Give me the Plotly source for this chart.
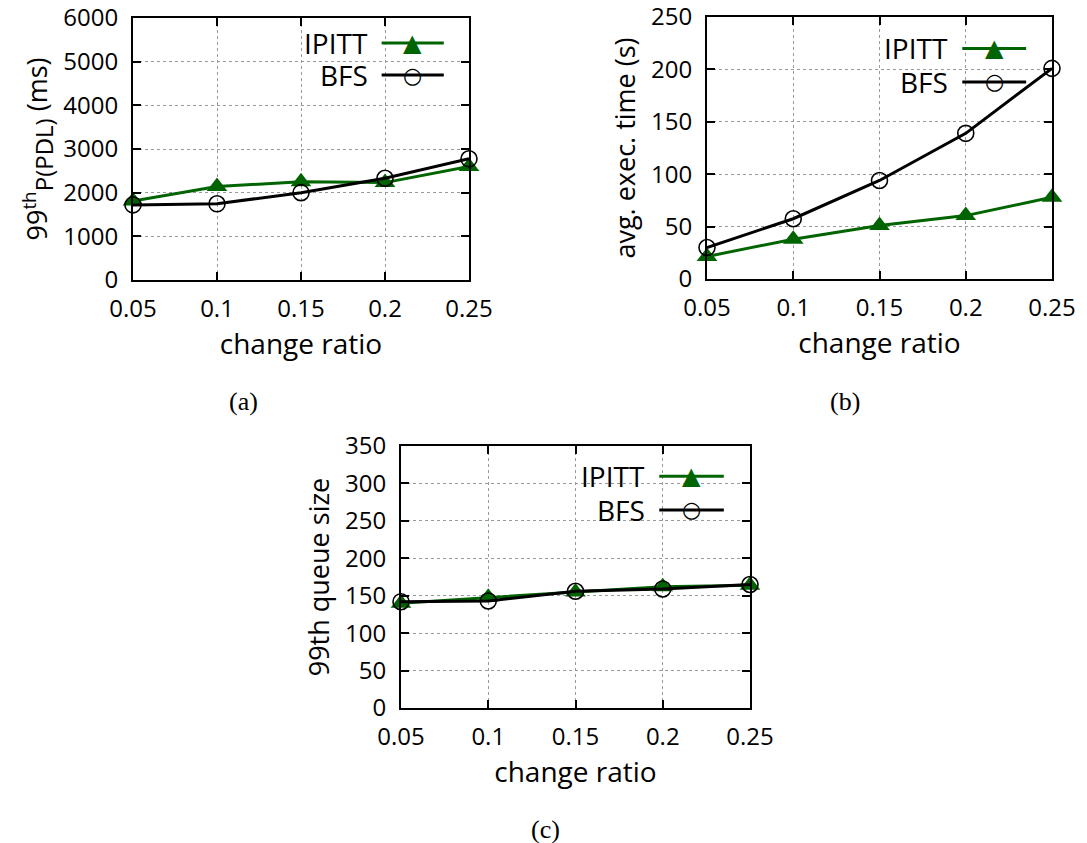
import plotly.graph_objects as go

# ---- data ----
change_ratio = [0.05, 0.1, 0.15, 0.2, 0.25]
x_tick_labels = ["0.05", "0.1", "0.15", "0.2", "0.25"]

pdl_ipitt = [1810, 2140, 2250, 2230, 2600]
pdl_bfs = [1720, 1745, 2000, 2330, 2775]
pdl_ticks = [0, 1000, 2000, 3000, 4000, 5000, 6000]

exec_ipitt = [21.5, 38, 51, 60.5, 78]
exec_bfs = [30, 57.5, 94, 139, 201]
exec_ticks = [0, 50, 100, 150, 200, 250]

queue_ipitt = [140, 148, 155, 162, 164]
queue_bfs = [142, 143, 156, 159, 165]
queue_ticks = [0, 50, 100, 150, 200, 250, 300, 350]

W, H = 1087, 843
FONT = "Open Sans"
GREEN = "#006400"


def px_x(p):
    return p / W


def px_y(p):
    return 1 - p / H


panels = [
    dict(ax="", xpx=(133, 469), ypx=(18, 280), ipitt=pdl_ipitt, bfs=pdl_bfs, yticks=pdl_ticks,
         ytitle="99<sup>th</sup><sub><span style='font-size:24px'>P(PDL)</span></sub> (ms)",
         cap="(a)", cap_xy=(243, 401), rows=(0.905, 0.782)),
    dict(ax="2", xpx=(707, 1052), ypx=(17, 279), ipitt=exec_ipitt, bfs=exec_bfs, yticks=exec_ticks,
         ytitle="avg. exec. time (s)", cap="(b)", cap_xy=(845, 401), rows=(0.88, 0.752)),
    dict(ax="3", xpx=(401, 750), ypx=(446, 708), ipitt=queue_ipitt, bfs=queue_bfs, yticks=queue_ticks,
         ytitle="99th queue size", cap="(c)", cap_xy=(545, 829), rows=(0.885, 0.756)),
]

fig = go.Figure()
annotations = []
shapes = []

for p in panels:
    xa = "x" + p["ax"]
    ya = "y" + p["ax"]
    fig.add_trace(go.Scatter(
        x=change_ratio, y=p["ipitt"], xaxis=xa, yaxis=ya, mode="lines+markers",
        line=dict(color=GREEN, width=3), marker=dict(symbol="triangle-up", size=18, color=GREEN),
        cliponaxis=False, showlegend=False, name="IPITT"))
    fig.add_trace(go.Scatter(
        x=change_ratio, y=p["bfs"], xaxis=xa, yaxis=ya, mode="lines+markers",
        line=dict(color="black", width=3),
        marker=dict(symbol="circle-open", size=16, color="black", line=dict(width=1.6)),
        cliponaxis=False, showlegend=False, name="BFS"))

    axis_common = dict(
        showline=True, linecolor="black", linewidth=2, mirror="ticks",
        ticks="inside", ticklen=8, tickwidth=1.5, tickcolor="black",
        showgrid=True, gridcolor="#9a9a9a", griddash="dot", gridwidth=1,
        zeroline=False, automargin=False,
        tickfont=dict(family=FONT, size=24, color="black"),
    )
    xkey = "xaxis" + p["ax"]
    ykey = "yaxis" + p["ax"]
    yt = p["yticks"]
    fig.update_layout(**{
        xkey: dict(axis_common, domain=[px_x(p["xpx"][0]), px_x(p["xpx"][1])],
                   range=[0.05, 0.25], tickvals=change_ratio, ticktext=x_tick_labels,
                   anchor=ya, ticklabelstandoff=6,
                   title=dict(text="change ratio", font=dict(family=FONT, size=28, color="black"), standoff=8)),
        ykey: dict(axis_common, domain=[px_y(p["ypx"][1]), px_y(p["ypx"][0])],
                   range=[yt[0], yt[-1]], tickvals=yt, ticktext=[str(v) for v in yt],
                   anchor=xa, ticklabelstandoff=8, ticklabeloverflow="allow",
                   title=dict(text=p["ytitle"], font=dict(family=FONT, size=27, color="black"), standoff=8)),
    })

    xd = xa + " domain"
    yd = ya + " domain"
    r1, r2 = p["rows"]
    for label, row, color, glyph, gsize in [("IPITT", r1, GREEN, "▲", 24), ("BFS", r2, "black", "○", 22)]:
        annotations.append(dict(xref=xd, yref=yd, x=0.705, y=row, text=label, showarrow=False,
                                xanchor="right", yanchor="middle", height=30, valign="middle",
                                font=dict(family=FONT, size=28, color="black")))
        shapes.append(dict(type="line", xref=xd, yref=yd, x0=0.74, x1=0.925, y0=row, y1=row,
                           line=dict(color=color, width=3)))
        annotations.append(dict(xref=xd, yref=yd, x=0.8325, y=row, text=glyph, showarrow=False,
                                xanchor="center", yanchor="middle",
                                font=dict(family="DejaVu Sans", size=gsize, color=color)))
    annotations.append(dict(xref="paper", yref="paper", x=px_x(p["cap_xy"][0]), y=px_y(p["cap_xy"][1]),
                            text=p["cap"], showarrow=False, xanchor="center", yanchor="middle",
                            font=dict(family="Liberation Serif", size=26, color="black")))

fig.update_layout(
    width=W, height=H, margin=dict(l=0, r=0, t=0, b=0),
    paper_bgcolor="white", plot_bgcolor="white",
    annotations=annotations, shapes=shapes, showlegend=False,
)

fig.write_html("out.html")
